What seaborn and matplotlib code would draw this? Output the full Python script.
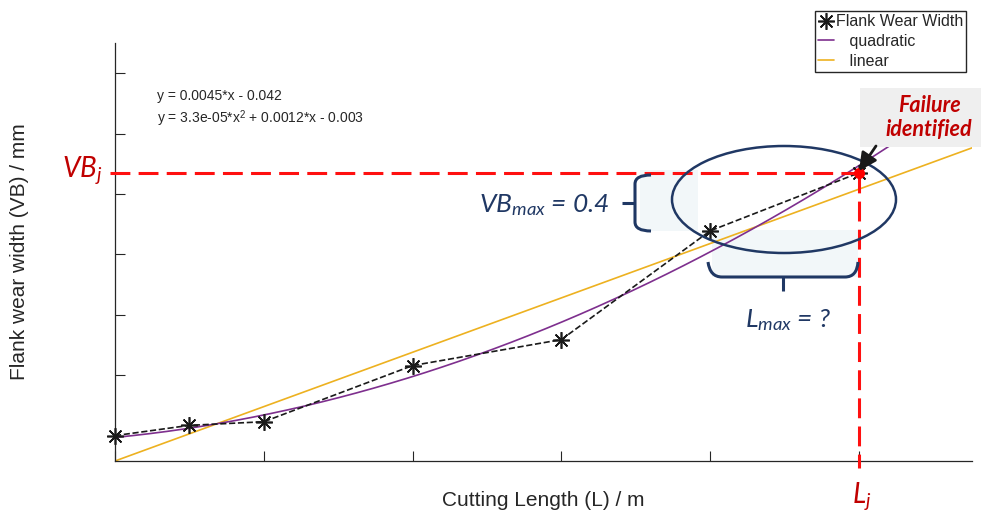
import numpy as np
import matplotlib
matplotlib.use('Agg')
import matplotlib.pyplot as plt
import seaborn as sns
from matplotlib.patches import Ellipse, Rectangle, PathPatch, FancyArrowPatch
from matplotlib.path import Path
from matplotlib.lines import Line2D

# ---- data ----
cutting_length = [0, 10, 20, 40, 60, 80, 100]
wear_width = [0.0, 0.017, 0.023, 0.116, 0.159, 0.339, 0.435]
linear_coef = [0.0045, -0.042]
quad_coef = [3.3e-05, 0.0012, -0.003]
eq_labels = ["y = 0.0045*x - 0.042", "y = 3.3e-05*x$^{2}$ + 0.0012*x - 0.003"]
legend_labels = ["Flank Wear Width", "   quadratic", "   linear"]
x_ticks = [0, 20, 40, 60, 80, 100]
y_ticks = [0, 0.1, 0.2, 0.3, 0.4, 0.5, 0.6]
x_label = "Cutting Length (L) / m"
y_label = "Flank wear width (VB) / mm"

sns.set_theme(style='white')
plt.rcParams['font.family'] = ['Liberation Sans', 'DejaVu Sans']
plt.rcParams['mathtext.fontset'] = 'custom'
plt.rcParams['mathtext.it'] = 'Lato:italic'
plt.rcParams['mathtext.rm'] = 'Liberation Sans'
plt.rcParams['mathtext.bf'] = 'Lato:bold'

W, H = 981, 517
fig = plt.figure(figsize=(W / 100, H / 100), dpi=100)
ax = fig.add_axes([115 / W, 1 - 461 / H, 857 / W, 418 / H])

def P(x, y):
    return (x / W, 1 - y / H)

PURPLE = '#7E2F8E'
ORANGE = '#EDB120'
NAVY = '#203864'
DRED = '#C00000'

x_lin = np.linspace(0, 115.2, 200)
sns.lineplot(x=x_lin, y=np.polyval(linear_coef, x_lin), color=ORANGE, lw=1.2, ax=ax, zorder=2)
sns.lineplot(x=x_lin, y=np.polyval(quad_coef, x_lin), color=PURPLE, lw=1.2, ax=ax, zorder=2)
sns.lineplot(x=cutting_length, y=wear_width, color='k', lw=1.2, linestyle='--',
             marker=(8, 2, 0), markersize=12, markeredgecolor='k', markeredgewidth=1.2,
             ax=ax, zorder=3, clip_on=False)

L_j = cutting_length[-1]
VB_j = wear_width[-1]
ax.plot([-0.7, L_j], [VB_j, VB_j], color='#FF1010', lw=2.2, dashes=(6.5, 2.7), clip_on=False, zorder=4)
ax.plot([L_j, L_j], [VB_j, -0.054], color='#FF1010', lw=2.2, dashes=(6.5, 2.7), clip_on=False, zorder=4)
ax.plot([L_j], [VB_j], 'o', color='#FF0000', ms=7, zorder=5)

ax.set_xlim(0, 115.2)
ax.set_ylim(-0.042, 0.65)
ax.set_xticks(x_ticks)
ax.set_yticks(y_ticks)
ax.tick_params(direction='in', length=7, width=0.8, colors='#262626',
               labelleft=False, labelbottom=False, left=True, bottom=True)
sns.despine(ax=ax)
for s in ['left', 'bottom']:
    ax.spines[s].set_color('#262626')
    ax.spines[s].set_linewidth(0.9)

ax.set_xlabel(x_label, fontsize=15, color='#262626')
ax.set_ylabel(y_label, fontsize=15, color='#262626')
ax.xaxis.set_label_coords(0.5, -0.072)
ax.yaxis.set_label_coords(-0.1, 0.5)

# equations
ax.text(*P(157, 100), eq_labels[0], transform=fig.transFigure, fontsize=10, va='baseline', ha='left')
ax.text(*P(157, 123), eq_labels[1], transform=fig.transFigure, fontsize=10, va='baseline', ha='left')

# light fills
for (x0, y0, x1, y1) in [(640, 170, 698, 231), (712, 230, 858, 277)]:
    ax.add_patch(Rectangle(P(x0, y1), (x1 - x0) / W, (y1 - y0) / H, transform=fig.transFigure,
                           facecolor='#F2F7F9', edgecolor='none', zorder=0.5, clip_on=False))

# ellipse
ax.add_patch(Ellipse(P(784, 199.5), 224 / W, 107 / H, transform=fig.transFigure,
                     facecolor='none', edgecolor=NAVY, lw=1.8, zorder=6, clip_on=False))

# brackets
def bracket(pts, codes):
    verts = [P(*p) for p in pts]
    ax.add_patch(PathPatch(Path(verts, codes), transform=fig.transFigure, facecolor='none',
                           edgecolor=NAVY, lw=2.2, zorder=6, clip_on=False, capstyle='butt'))

M, L3, C3 = Path.MOVETO, Path.LINETO, Path.CURVE3
bracket([(651, 175), (635, 175), (635, 184), (635, 222), (635, 231), (651, 231)],
        [M, C3, C3, L3, C3, C3])
bracket([(622, 203), (635, 203)], [M, L3])
bracket([(708, 262), (710, 277), (722, 277), (845, 277), (857, 277), (858, 262)],
        [M, C3, C3, L3, C3, C3])
bracket([(783, 277), (783, 291)], [M, L3])

# annotation texts
ax.text(*P(479, 212), r'$VB_{max}$' + ' = 0.4', transform=fig.transFigure, fontsize=19,
        family='Lato', style='italic', color=NAVY, va='baseline', ha='left')
ax.text(*P(745, 327), r'$L_{max}$' + ' = ?', transform=fig.transFigure, fontsize=19,
        family='Lato', style='italic', color=NAVY, va='baseline', ha='left')
ax.text(*P(62, 177), r'$VB_j$', transform=fig.transFigure, fontsize=20,
        color=DRED, va='baseline', ha='left')
ax.text(*P(852, 502), r'$L_j$', transform=fig.transFigure, fontsize=20,
        color=DRED, va='baseline', ha='left')

# failure box
ax.add_patch(Rectangle(P(860, 147), 121 / W, 59 / H, transform=fig.transFigure,
                       facecolor='#EFEFEF', edgecolor='none', zorder=7, clip_on=False))
ax.text(*P(930, 112), 'Failure', transform=fig.transFigure, fontsize=15.5, family='Lato',
        weight='bold', style='italic', color=DRED, ha='center', va='baseline', zorder=8)
ax.text(*P(929, 136), 'identified', transform=fig.transFigure, fontsize=15.5, family='Lato',
        weight='bold', style='italic', color=DRED, ha='center', va='baseline', zorder=8)
ax.add_patch(FancyArrowPatch(P(876, 146), P(859, 171), transform=fig.transFigure,
                             arrowstyle='-|>', mutation_scale=27, lw=2, color='k',
                             shrinkA=0, shrinkB=0, zorder=8, clip_on=False))

# legend
handles = [Line2D([], [], color='k', marker=(8, 2, 0), ls='none', ms=12, mew=1.2),
           Line2D([], [], color=PURPLE, lw=1.2),
           Line2D([], [], color=ORANGE, lw=1.2)]
leg = ax.legend(handles, legend_labels, loc='upper right', bbox_to_anchor=P(966, 11),
                bbox_transform=fig.transFigure, borderaxespad=0, fontsize=11.5,
                handlelength=1.0, handletextpad=0.1, labelspacing=0.3, borderpad=0.2,
                fancybox=False, framealpha=1, edgecolor='#262626')
leg.get_frame().set_linewidth(1.0)
leg.set_zorder(9)

fig.savefig('out.png', dpi=100)
